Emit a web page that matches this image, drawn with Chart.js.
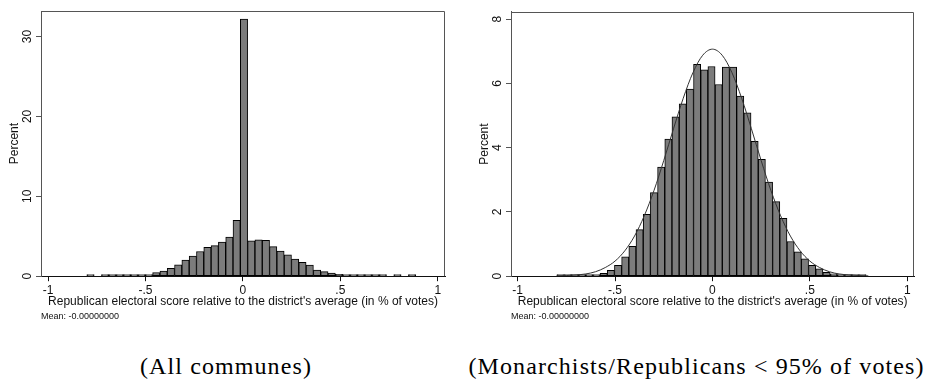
<!DOCTYPE html>
<html>
<head>
<meta charset="utf-8">
<script src="https://cdn.jsdelivr.net/npm/chart.js@4.4.0/dist/chart.umd.min.js"></script>
<style>
  html, body { margin: 0; padding: 0; background: #fff; }
  body { width: 928px; height: 379px; position: relative; overflow: hidden; }
  canvas { position: absolute; top: 0; }
  #leftChart { left: 0; }
  #rightChart { left: 460px; }
  .caption {
    position: absolute; top: 354px;
    font-family: "Liberation Serif", serif; font-size: 24px; line-height: 1;
    letter-spacing: 1.1px; text-align: center; white-space: nowrap; color: #000;
  }
</style>
</head>
<body>
<canvas id="leftChart" width="460" height="322"></canvas>
<canvas id="rightChart" width="468" height="322"></canvas>
<div class="caption" style="left:0;width:452px">(All communes)</div>
<div class="caption" style="left:465px;width:463px">(Monarchists/Republicans &lt; 95% of votes)</div>
<script>
// shared x axis
const xTicks = [-1, -0.5, 0, 0.5, 1];
const xTickLabels = ['-1', '-.5', '0', '.5', '1'];
const xTitle = "Republican electoral score relative to the district's average (in % of votes)";
const yTitle = 'Percent';
const meanNote = 'Mean: -0.00000000';

// left panel: all communes (bin centres and percent per bin)
const allBins = [-0.782, -0.7445, -0.707, -0.6695, -0.632, -0.5945, -0.557, -0.5195,
  -0.482, -0.4445, -0.407, -0.3695, -0.332, -0.2945, -0.257, -0.2195, -0.182, -0.1445,
  -0.107, -0.0695, -0.032, 0.0055, 0.043, 0.0805, 0.118, 0.1555, 0.193, 0.2305, 0.268,
  0.3055, 0.343, 0.3805, 0.418, 0.4555, 0.493, 0.5305, 0.568, 0.6055, 0.643, 0.6805,
  0.718, 0.7555, 0.793, 0.8305, 0.868];
const allPercent = [0.04, null, 0.03, 0.03, 0.02, 0.03, 0.03, 0.07,
  0.17, 0.46, 0.65, 1.0, 1.42, 2.02, 2.52, 3.09, 3.62, 3.83,
  4.27, 4.9, 6.98, 32.2, 4.42, 4.54, 4.5, 3.7, 3.15, 2.67, 2.15,
  1.75, 1.38, 0.77, 0.58, 0.38, 0.23, 0.12, 0.06, 0.04, 0.03, 0.03,
  0.03, null, 0.04, null, 0.04];
const allYTicks = [0, 10, 20, 30];

// right panel: Monarchists/Republicans < 95% of votes
const restBins = [-0.7798, -0.7429, -0.706, -0.6691, -0.6322, -0.5953, -0.5584, -0.5215,
  -0.4846, -0.4477, -0.4108, -0.3739, -0.337, -0.3001, -0.2632, -0.2263, -0.1894, -0.1525,
  -0.1156, -0.0787, -0.0418, -0.0049, 0.032, 0.0689, 0.1058, 0.1427, 0.1796, 0.2165,
  0.2534, 0.2903, 0.3272, 0.3641, 0.401, 0.4379, 0.4748, 0.5117, 0.5486, 0.5855, 0.6224,
  0.6593, 0.6962, 0.7331, 0.77];
const restPercent = [0.01, 0.01, 0.01, 0.02, 0.03, 0.05, 0.09, 0.18,
  0.34, 0.6, 0.93, 1.45, 1.93, 2.6, 3.4, 4.27, 4.96, 5.37,
  5.83, 6.6, 6.43, 6.53, 5.97, 6.51, 6.51, 5.61, 5.09, 4.2,
  3.64, 2.93, 2.32, 1.8, 1.08, 0.76, 0.54, 0.34, 0.23, 0.12, 0.07,
  0.04, 0.02, 0.01, 0.01];
const restYTicks = [0, 2, 4, 6, 8];

// normal density overlay (right panel)
const normalX = [-0.8, -0.75, -0.7, -0.65, -0.6, -0.55, -0.5, -0.45, -0.4, -0.35, -0.3,
  -0.25, -0.2, -0.15, -0.1, -0.05, 0, 0.05, 0.1, 0.15, 0.2, 0.25, 0.3, 0.35, 0.4, 0.45,
  0.5, 0.55, 0.6, 0.65, 0.7, 0.75, 0.8];
const normalPercent = [0.01, 0.02, 0.04, 0.07, 0.14, 0.27, 0.47, 0.79, 1.25, 1.88, 2.67,
  3.6, 4.59, 5.54, 6.34, 6.88, 7.07, 6.88, 6.34, 5.54, 4.59, 3.6, 2.67, 1.88, 1.25, 0.79,
  0.47, 0.27, 0.14, 0.07, 0.04, 0.02, 0.01];

Chart.defaults.font.family = '"Liberation Sans", Arial, sans-serif';
Chart.defaults.font.size = 12;
Chart.defaults.color = '#111';

// top and right edges of the plot region
const framePlugin = {
  id: 'frame',
  afterDraw(chart) {
    const { ctx, chartArea: a } = chart;
    const top = Math.round(a.top) + 0.5;
    const right = Math.round(a.right) - 0.5;
    ctx.save();
    ctx.strokeStyle = '#555';
    ctx.lineWidth = 1;
    ctx.beginPath();
    ctx.moveTo(a.left, top);
    ctx.lineTo(right, top);
    ctx.lineTo(right, a.bottom);
    ctx.stroke();
    ctx.restore();
  }
};

function toPoints(xs, ys) {
  return xs.map((x, i) => ({ x: x, y: ys[i] })).filter(p => p.y !== null);
}

function histogram(id, s) {
  const datasets = [{
    type: 'bar',
    data: toPoints(s.bins, s.percent),
    backgroundColor: '#7c7c7c',
    borderColor: '#000',
    borderWidth: 1,
    borderSkipped: false,
    barPercentage: 1,
    categoryPercentage: 1,
    minBarLength: 1.5,
    order: 1
  }];
  if (s.curveX) {
    datasets.push({
      type: 'line',
      data: toPoints(s.curveX, s.curveY),
      borderColor: '#333',
      borderWidth: 1,
      pointRadius: 0,
      cubicInterpolationMode: 'monotone',
      fill: false,
      order: 0
    });
  }

  return new Chart(document.getElementById(id), {
    type: 'bar',
    data: { datasets: datasets },
    plugins: [framePlugin],
    options: {
      responsive: false,
      animation: false,
      devicePixelRatio: 1,
      layout: { padding: { top: 11, right: s.padRight, left: 0, bottom: 0 } },
      plugins: {
        legend: { display: false },
        tooltip: { enabled: false },
        subtitle: {
          display: true,
          text: meanNote,
          position: 'bottom',
          align: 'start',
          fullSize: false,
          font: { size: 9 },
          color: '#111',
          padding: { top: 2, bottom: 0 }
        }
      },
      scales: {
        x: {
          type: 'linear',
          min: s.xMin,
          max: s.xMax,
          offset: false,
          afterBuildTicks: sc => { sc.ticks = xTicks.map(v => ({ value: v })); },
          afterFit: sc => { sc.height = 33; },
          ticks: {
            autoSkip: false,
            maxRotation: 0,
            padding: 2,
            callback: v => xTickLabels[xTicks.indexOf(v)]
          },
          grid: { display: true, offset: false, drawOnChartArea: false, tickLength: 5, tickColor: '#111' },
          border: { display: true, color: '#111', width: 1 },
          title: { display: true, text: xTitle, padding: 0 }
        },
        y: {
          min: 0,
          max: s.yMax,
          afterBuildTicks: sc => { sc.ticks = s.yTicks.map(v => ({ value: v })); },
          afterFit: sc => { sc.width = s.yWidth; },
          ticks: { minRotation: 90, maxRotation: 90, crossAlign: 'center', padding: s.yPad },
          grid: { display: true, drawOnChartArea: false, tickLength: 5, tickColor: '#555' },
          border: { display: true, color: '#555', width: 1 },
          title: { display: true, text: yTitle, padding: { top: s.titlePad, bottom: 0 } }
        }
      }
    }
  });
}

histogram('leftChart', {
  bins: allBins, percent: allPercent, yTicks: allYTicks,
  xMin: -1.036, xMax: 1.037, yMax: 33.2,
  yWidth: 41, yPad: 1.3, titlePad: 7.8, padRight: 15
});

histogram('rightChart', {
  bins: restBins, percent: restPercent, yTicks: restYTicks,
  curveX: normalX, curveY: normalPercent,
  xMin: -1.034, xMax: 1.036, yMax: 8.23,
  yWidth: 51, yPad: 4.7, titlePad: 17.8, padRight: 13.7
});
</script>
</body>
</html>
